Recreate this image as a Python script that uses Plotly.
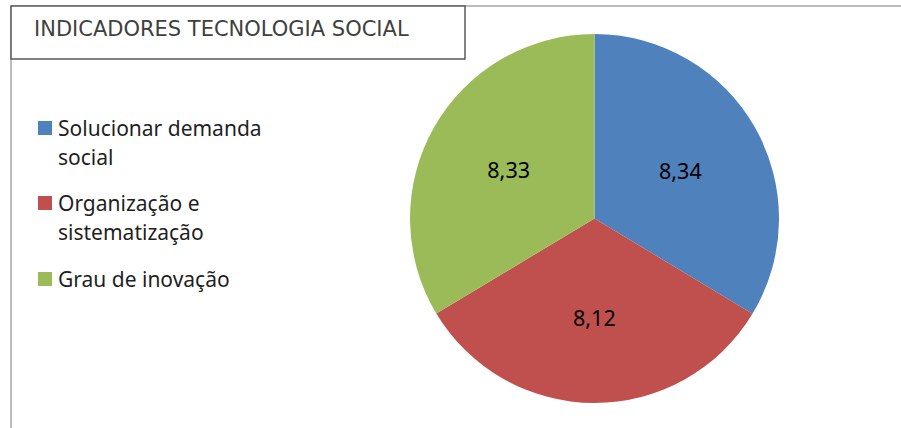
import plotly.graph_objects as go

# ---- data ----
categories = ["Solucionar demanda social", "Organização e sistematização", "Grau de inovação"]
values = [8.34, 8.12, 8.33]
legend_lines = [["Solucionar demanda", "social"],
                ["Organização e", "sistematização"],
                ["Grau de inovação"]]
colors = ["#4F81BD", "#C0504D", "#9BBB59"]
title_text = "INDICADORES TECNOLOGIA SOCIAL"

W, H = 901, 428


def px(x):
    return x / W


def py(y):
    return 1 - y / H


fig = go.Figure()
fig.add_trace(go.Pie(
    labels=categories,
    values=values,
    sort=False,
    direction="clockwise",
    rotation=0,
    marker=dict(colors=colors, line=dict(width=0)),
    texttemplate="%{value:.2f}",
    textposition="inside",
    insidetextorientation="horizontal",
    textfont=dict(family="Noto Sans", size=21.5, color="#000000"),
    domain=dict(x=[px(410), px(779)], y=[py(403), py(34)]),
    showlegend=False,
    hoverinfo="label+value",
))

shapes = []
annotations = []

# frame lines
shapes.append(dict(type="line", xref="paper", yref="paper",
                   x0=px(11), x1=px(901), y0=py(6), y1=py(6),
                   line=dict(color="#A6A6A6", width=1.5)))
shapes.append(dict(type="line", xref="paper", yref="paper",
                   x0=px(11), x1=px(11), y0=py(6), y1=py(428),
                   line=dict(color="#A6A6A6", width=1.5)))
# title box
shapes.append(dict(type="rect", xref="paper", yref="paper",
                   x0=px(11), x1=px(465), y0=py(6), y1=py(59),
                   line=dict(color="#595959", width=1.5), fillcolor="white"))
annotations.append(dict(text=title_text, xref="paper", yref="paper",
                        x=px(32), y=py(29), xanchor="left", yanchor="middle",
                        showarrow=False,
                        font=dict(family="DejaVu Sans", size=21, color="#404040")))

# legend (manual, built from the data lists)
entry_y = [128, 203, 279]
line_step = 29
for lines, col, y0 in zip(legend_lines, colors, entry_y):
    shapes.append(dict(type="rect", xref="paper", yref="paper",
                       x0=px(38), x1=px(52), y0=py(y0 - 7), y1=py(y0 + 7),
                       line=dict(width=0), fillcolor=col))
    for i, t in enumerate(lines):
        annotations.append(dict(text=t, xref="paper", yref="paper",
                                x=px(56), y=py(y0 + i * line_step),
                                xanchor="left", yanchor="middle", showarrow=False,
                                font=dict(family="Noto Sans", size=21, color="#1F1F1F")))

fig.update_layout(
    width=W, height=H,
    margin=dict(l=0, r=0, t=0, b=0),
    paper_bgcolor="white",
    plot_bgcolor="white",
    separators=",.",
    shapes=shapes,
    annotations=annotations,
)

fig.write_html("out.html",
               config={"displayModeBar": False},
               post_script="document.body.style.margin='0';document.body.style.overflow='hidden';")
